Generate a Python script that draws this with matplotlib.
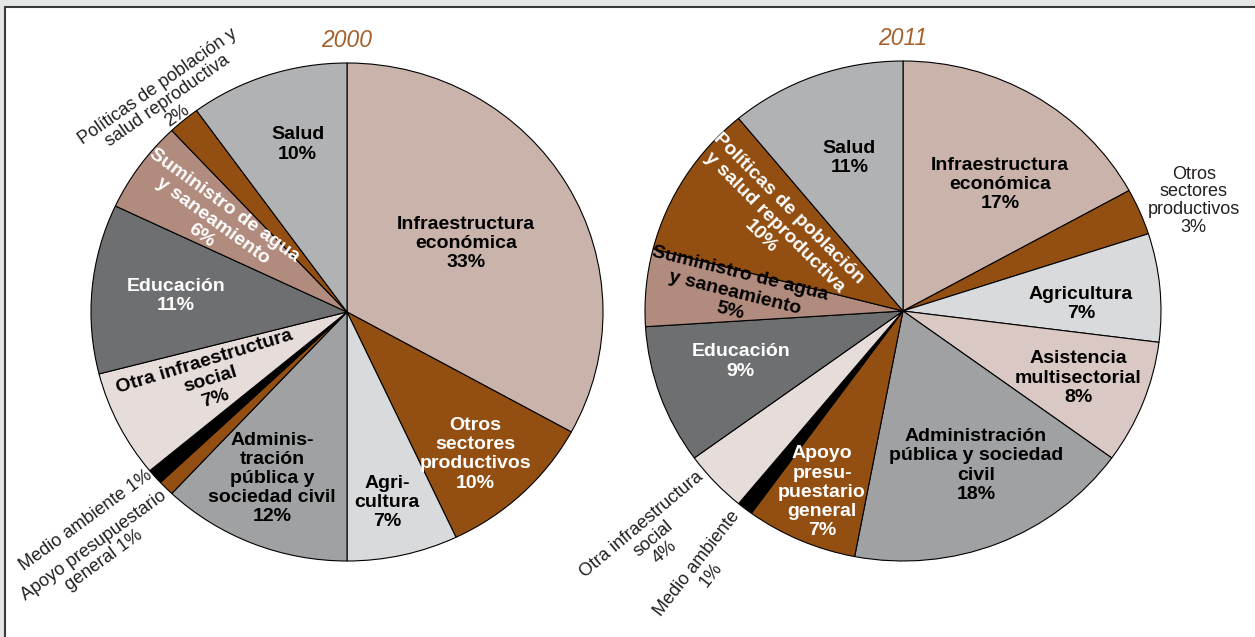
import numpy as np
import matplotlib.pyplot as plt
from matplotlib.patches import Rectangle

plt.rcParams['font.family'] = ['Liberation Sans', 'DejaVu Sans']

# --- datos ---------------------------------------------------------------
years = ['2000', '2011']

sectors_2000 = ['Infraestructura\neconómica', 'Otros\nsectores\nproductivos', 'Agri-\ncultura',
                'Adminis-\ntración\npública y\nsociedad civil', 'Apoyo presupuestario\ngeneral',
                'Medio ambiente', 'Otra infraestructura\nsocial', 'Educación',
                'Suministro de agua\ny saneamiento', 'Políticas de población y\nsalud reproductiva', 'Salud']
values_2000 = [33, 10, 7, 12, 1, 1, 7, 11, 6, 2, 10]

sectors_2011 = ['Infraestructura\neconómica', 'Otros\nsectores\nproductivos', 'Agricultura',
                'Asistencia\nmultisectorial', 'Administración\npública y sociedad\ncivil',
                'Apoyo\npresu-\npuestario\ngeneral', 'Medio ambiente', 'Otra infraestructura\nsocial',
                'Educación', 'Suministro de agua\ny saneamiento', 'Políticas de población\ny salud reproductiva',
                'Salud']
values_2011 = [17, 3, 7, 8, 18, 7, 1, 4, 9, 5, 10, 11]

# --- estilo --------------------------------------------------------------
INFRA = '#c9b3ab'
BROWN = '#934f12'
AGRI = '#d9dadc'
ADMIN = '#a0a1a3'
OTRA = '#e6dcd9'
EDUC = '#6e6f71'
SUMIN = '#b08b7e'
SALUD = '#b1b2b4'
ASIST = '#dac8c4'

colors_2000 = [INFRA, BROWN, AGRI, ADMIN, BROWN, 'black', OTRA, EDUC, SUMIN, BROWN, SALUD]
colors_2011 = [INFRA, BROWN, AGRI, ASIST, ADMIN, BROWN, 'black', OTRA, EDUC, SUMIN, BROWN, SALUD]

# per label: radial distance, angle nudge, rotation, inside (bold) / outside, text colour, separator
style_2000 = [
    (0.54, 0, 0, True, 'black', '\n'),
    (0.76, -2, 0, True, 'white', '\n'),
    (0.78, -1, 0, True, 'black', '\n'),
    (0.73, -2, 0, True, 'black', '\n'),
    (1.37, 0, 36, False, 'black', ' '),
    (1.32, -2, 36, False, 'black', ' '),
    (0.60, 0, 17, True, 'black', '\n'),
    (0.67, 0, 0, True, 'white', '\n'),
    (0.64, 1, -36, True, 'white', '\n'),
    (1.10, 0, 35, False, 'black', '\n'),
    (0.70, -2, 0, True, 'black', '\n'),
]
style_2011 = [
    (0.63, -6, 0, True, 'black', '\n'),
    (1.21, -2, 0, False, 'black', '\n'),
    (0.69, -3, 0, True, 'black', '\n'),
    (0.73, 0, 0, True, 'black', '\n'),
    (0.68, 3, 0, True, 'black', '\n'),
    (0.79, 0, 0, True, 'white', '\n'),
    (1.29, 1, 52, False, 'black', '\n'),
    (1.33, 0, 40, False, 'black', '\n'),
    (0.66, -2, 0, True, 'white', '\n'),
    (0.655, -1, -14, True, 'black', '\n'),
    (0.61, -3, -45, True, 'white', '\n'),
    (0.645, -1, 0, True, 'black', '\n'),
]

W, H = 1255, 637
fig = plt.figure(figsize=(W / 100, H / 100), dpi=100)
fig.patch.set_facecolor('#e4e6e5')
fig.patches.append(Rectangle((5 / W, -0.05), 1.1, (H - 7) / H + 0.05, transform=fig.transFigure,
                             facecolor='white', edgecolor='#3a3a3a', linewidth=1.5, zorder=-1))

# pie centres and radii in pixels (slightly wider than tall)
layout = [(347, 312, 256, 249), (903, 311, 258, 250)]
lim = 1.2


def draw_pie(year, labels, values, colors, styles, cx, cy, rx, ry):
    ax = fig.add_axes([(cx - lim * rx) / W, (H - cy - lim * ry) / H, 2 * lim * rx / W, 2 * lim * ry / H])
    wedges, _ = ax.pie(values, colors=colors, startangle=90, counterclock=False,
                       wedgeprops=dict(edgecolor='black', linewidth=0.8))
    ax.set_aspect('auto')
    ax.set_xlim(-lim, lim)
    ax.set_ylim(-lim, lim)
    ax.axis('off')

    for w, lab, val, (r, dang, rot, inside, col, sep) in zip(wedges, labels, values, styles):
        ang = np.deg2rad((w.theta1 + w.theta2) / 2 + dang)
        x, y = r * np.cos(ang), r * np.sin(ang)
        txt = f'{lab}{sep}{val}%'
        if inside:
            ax.text(x, y, txt, ha='center', va='center', rotation=rot, rotation_mode='anchor',
                    fontsize=14, fontweight='bold', color=col, linespacing=1.17)
        else:
            ax.text(x, y, txt, ha='center', va='center', rotation=rot, rotation_mode='anchor',
                    fontsize=13, color='#231f20', linespacing=1.05)

    ax.text(0, 1.09, year, ha='center', va='center', fontsize=16.5, style='italic', color='#a5612b')


draw_pie(years[0], sectors_2000, values_2000, colors_2000, style_2000, *layout[0])
draw_pie(years[1], sectors_2011, values_2011, colors_2011, style_2011, *layout[1])

fig.savefig('out.png', dpi=100, facecolor=fig.get_facecolor())
